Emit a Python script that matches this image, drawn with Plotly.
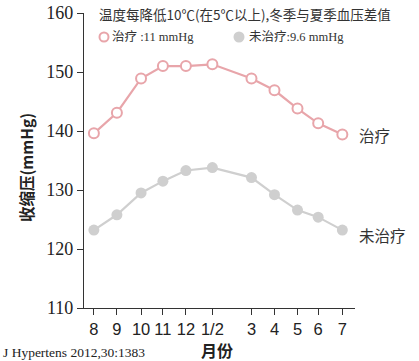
import plotly.graph_objects as go

months = ["8", "9", "10", "11", "12", "1/2", "3", "4", "5", "6", "7"]
month_pos = [0, 1, 2.05, 3, 4, 5.15, 6.85, 7.85, 8.85, 9.75, 10.8]
treated = [139.6, 143.1, 148.9, 151.0, 151.0, 151.3, 148.9, 146.9, 143.8, 141.3, 139.4]
untreated = [123.2, 125.8, 129.5, 131.5, 133.3, 133.8, 132.1, 129.2, 126.6, 125.4, 123.2]
y_ticks = [110, 120, 130, 140, 150, 160]

pink = "#e8a5aa"
grey = "#cfcfcf"

W, H = 419, 361
ML, MR, MT, MB = 84, 64, 13, 53
PW, PH = W - ML - MR, H - MT - MB


def px(x):
    return (x - ML) / PW


def py(y):
    return (H - MB - y) / PH


fig = go.Figure()
fig.add_trace(go.Scatter(x=month_pos, y=treated, mode="lines+markers",
                         line=dict(color=pink, width=2.2),
                         marker=dict(size=10, color="white", line=dict(color=pink, width=2)),
                         showlegend=False))
fig.add_trace(go.Scatter(x=month_pos, y=untreated, mode="lines+markers",
                         line=dict(color=grey, width=2.2),
                         marker=dict(size=11, color=grey),
                         showlegend=False))

fig.update_layout(
    width=W, height=H,
    margin=dict(l=ML, r=MR, t=MT, b=MB, autoexpand=False),
    plot_bgcolor="white", paper_bgcolor="white",
    font=dict(family="Liberation Serif, Noto Sans CJK SC", color="#222"),
    showlegend=False,
    xaxis=dict(range=[-0.43, 11.35], tickmode="array", tickvals=month_pos, ticktext=months,
               showline=True, linecolor="#333", linewidth=1.2, ticks="outside", ticklen=6,
               tickcolor="#333", showgrid=False, zeroline=False, automargin=False,
               tickfont=dict(family="Liberation Sans Narrow, Liberation Sans", size=16.5, color="#222")),
    yaxis=dict(range=[110, 160], tickvals=y_ticks, showline=True, linecolor="#333", linewidth=1.2,
               ticks="outside", ticklen=6, tickcolor="#333", showgrid=False, zeroline=False,
               automargin=False,
               tickfont=dict(family="Liberation Serif", size=18, color="#222")),
)

# legend symbols
fig.add_shape(type="circle", xref="paper", yref="paper", xsizemode="pixel", ysizemode="pixel",
              xanchor=px(104), yanchor=py(37), x0=-4.5, x1=4.5, y0=-4.5, y1=4.5,
              line=dict(color=pink, width=2), fillcolor="white")
fig.add_shape(type="circle", xref="paper", yref="paper", xsizemode="pixel", ysizemode="pixel",
              xanchor=px(239), yanchor=py(37), x0=-5.5, x1=5.5, y0=-5.5, y1=5.5,
              line=dict(color=grey, width=0), fillcolor=grey)

leg_font = dict(size=12.5, family="Liberation Serif, Noto Sans CJK SC", color="#333")
fig.add_annotation(x=px(110), y=py(37), xref="paper", yref="paper", xanchor="left", yanchor="middle",
                   text="治疗 :11 mmHg", showarrow=False, font=leg_font)
fig.add_annotation(x=px(247), y=py(37), xref="paper", yref="paper", xanchor="left", yanchor="middle",
                   text="未治疗:9.6 mmHg", showarrow=False, font=leg_font)

fig.add_annotation(x=px(97), y=py(14), xref="paper", yref="paper", xanchor="left", yanchor="middle",
                   text="温度每降低10℃(在5℃以上),冬季与夏季血压差值", showarrow=False,
                   font=dict(size=13.5, family="Noto Sans CJK SC, Liberation Serif", color="#333"))
fig.add_annotation(x=month_pos[-1], y=treated[-1], xref="x", yref="y", xanchor="left", yanchor="middle",
                   xshift=15, text="治疗", showarrow=False,
                   font=dict(size=15.5, family="Noto Sans CJK SC", color="#333"))
fig.add_annotation(x=month_pos[-1], y=untreated[-1], xref="x", yref="y", xanchor="left", yanchor="middle",
                   xshift=15, yshift=-5, text="未治疗", showarrow=False,
                   font=dict(size=15.5, family="Noto Sans CJK SC", color="#333"))
# axis titles
fig.add_annotation(x=px(217), y=py(350), xref="paper", yref="paper", xanchor="center", yanchor="middle",
                   text="<b>月份</b>", showarrow=False,
                   font=dict(size=16, family="Noto Sans CJK SC", color="#222"))
fig.add_annotation(x=px(26), y=py(168), xref="paper", yref="paper", xanchor="center", yanchor="middle",
                   text="<b>收缩压(mmHg)</b>", textangle=-90, showarrow=False,
                   font=dict(size=15.5, family="Noto Sans CJK SC", color="#222"))
fig.add_annotation(x=px(1), y=py(352), xref="paper", yref="paper", xanchor="left", yanchor="middle",
                   text="J Hypertens 2012,30:1383", showarrow=False,
                   font=dict(size=13.5, family="Liberation Serif", color="#222"))

fig.write_html("out.html", config={"displayModeBar": False},
               post_script="document.body.style.margin='0';document.body.style.overflow='hidden';")
